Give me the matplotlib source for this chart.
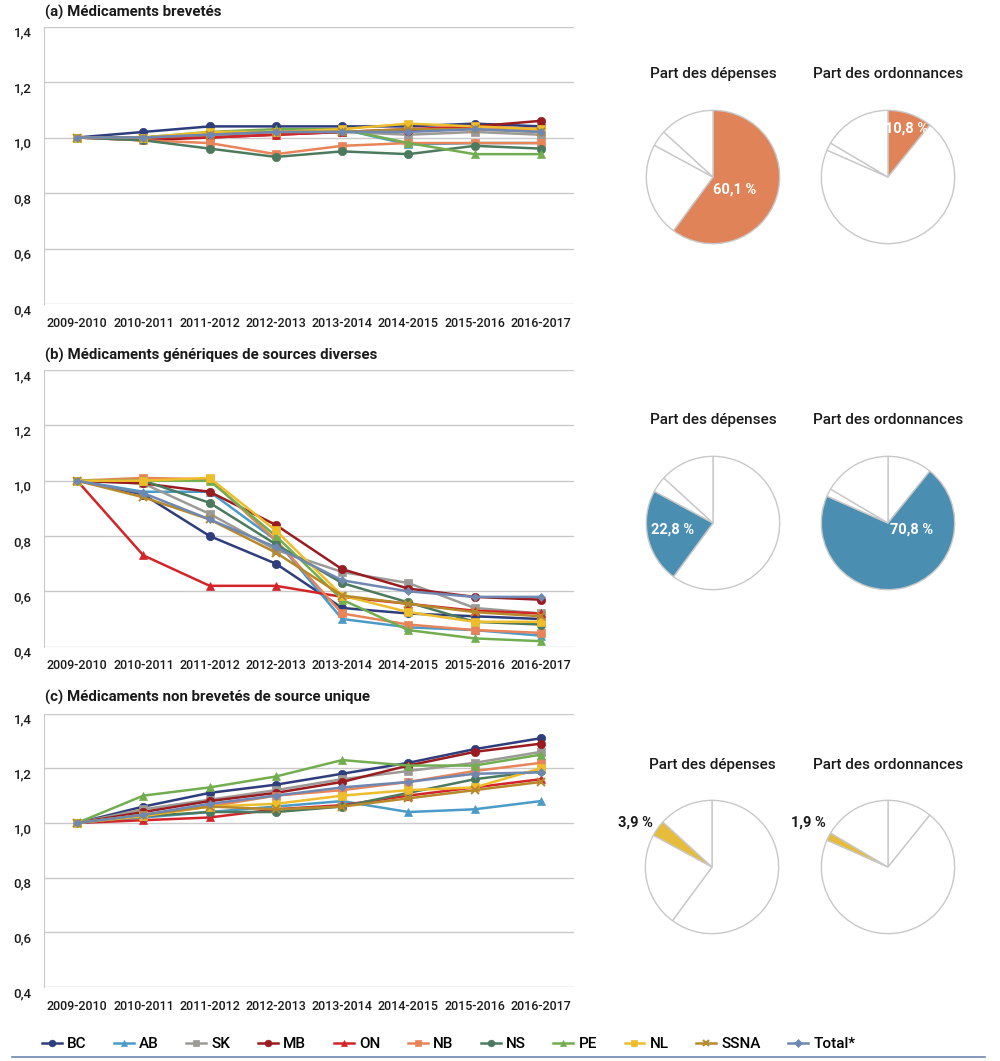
import numpy as np
import matplotlib
matplotlib.use('Agg')
import matplotlib.pyplot as plt
import matplotlib.transforms as mtransforms

plt.rcParams['font.family'] = ['Roboto', 'DejaVu Sans']

# 數據
periods = ['2009-2010', '2010-2011', '2011-2012', '2012-2013',
           '2013-2014', '2014-2015', '2015-2016', '2016-2017']
provinces = ['BC', 'AB', 'SK', 'MB', 'ON', 'NB', 'NS', 'PE', 'NL', 'SSNA', 'Total*']

# (a) Médicaments brevetés
brevetes = {
    'BC':     [1.00, 1.02, 1.04, 1.04, 1.04, 1.04, 1.05, 1.04],
    'AB':     [1.00, 1.00, 1.01, 1.02, 1.03, 0.975, 0.98, 0.98],
    'SK':     [1.00, 1.00, 1.01, 1.02, 1.02, 1.01, 1.02, 1.01],
    'MB':     [1.00, 0.99, 1.00, 1.01, 1.02, 1.025, 1.04, 1.06],
    'ON':     [1.00, 1.00, 1.00, 1.01, 1.02, 1.03, 1.04, 1.03],
    'NB':     [1.00, 0.99, 0.98, 0.94, 0.97, 0.98, 0.98, 0.98],
    'NS':     [1.00, 0.99, 0.96, 0.93, 0.95, 0.94, 0.97, 0.96],
    'PE':     [1.00, 1.00, 1.02, 1.03, 1.03, 0.98, 0.94, 0.94],
    'NL':     [1.00, 1.00, 1.02, 1.02, 1.03, 1.05, 1.04, 1.03],
    'SSNA':   [1.00, 1.00, 1.01, 1.02, 1.02, 1.03, 1.03, 1.02],
    'Total*': [1.00, 1.00, 1.01, 1.02, 1.02, 1.02, 1.03, 1.02],
}

# (b) Médicaments génériques de sources diverses
generiques = {
    'BC':     [1.00, 0.95, 0.80, 0.70, 0.54, 0.52, 0.51, 0.50],
    'AB':     [1.00, 0.96, 0.96, 0.785, 0.50, 0.47, 0.46, 0.44],
    'SK':     [1.00, 0.99, 0.88, 0.75, 0.67, 0.63, 0.54, 0.52],
    'MB':     [1.00, 0.99, 0.96, 0.84, 0.68, 0.61, 0.58, 0.57],
    'ON':     [1.00, 0.73, 0.62, 0.62, 0.58, 0.555, 0.53, 0.52],
    'NB':     [1.00, 1.01, 1.005, 0.785, 0.52, 0.48, 0.46, 0.45],
    'NS':     [1.00, 1.00, 0.92, 0.77, 0.63, 0.56, 0.49, 0.48],
    'PE':     [1.00, 1.00, 1.00, 0.80, 0.57, 0.46, 0.43, 0.42],
    'NL':     [1.00, 1.00, 1.01, 0.82, 0.585, 0.525, 0.49, 0.49],
    'SSNA':   [1.00, 0.94, 0.86, 0.74, 0.585, 0.555, 0.525, 0.51],
    'Total*': [1.00, 0.955, 0.86, 0.76, 0.64, 0.60, 0.58, 0.58],
}

# (c) Médicaments non brevetés de source unique
source_unique = {
    'BC':     [1.00, 1.06, 1.11, 1.14, 1.18, 1.22, 1.27, 1.31],
    'AB':     [1.00, 1.02, 1.04, 1.06, 1.08, 1.04, 1.05, 1.08],
    'SK':     [1.00, 1.05, 1.085, 1.12, 1.16, 1.19, 1.22, 1.26],
    'MB':     [1.00, 1.04, 1.08, 1.11, 1.15, 1.21, 1.26, 1.29],
    'ON':     [1.00, 1.01, 1.02, 1.05, 1.065, 1.10, 1.13, 1.16],
    'NB':     [1.00, 1.03, 1.06, 1.10, 1.12, 1.15, 1.19, 1.22],
    'NS':     [1.00, 1.025, 1.04, 1.04, 1.06, 1.11, 1.16, 1.19],
    'PE':     [1.00, 1.10, 1.13, 1.17, 1.23, 1.21, 1.21, 1.25],
    'NL':     [1.00, 1.025, 1.06, 1.07, 1.10, 1.12, 1.13, 1.20],
    'SSNA':   [1.00, 1.03, 1.06, 1.05, 1.06, 1.09, 1.12, 1.15],
    'Total*': [1.00, 1.03, 1.07, 1.10, 1.13, 1.15, 1.18, 1.185],
}

# 圓餅圖: 專利、仿製、單一來源、其他
pie_labels = ['brevetés', 'génériques', 'source unique', 'autres']
part_depenses = [60.1, 22.8, 3.9, 13.2]
part_ordonnances = [10.8, 70.8, 1.9, 16.5]

colors = {'BC': '#2E3D7C', 'AB': '#4A9BC7', 'SK': '#9C9A96', 'MB': '#9A1C20',
          'ON': '#D3242A', 'NB': '#E8845A', 'NS': '#4C7A5E', 'PE': '#72AE50',
          'NL': '#EDBD2C', 'SSNA': '#B8892B', 'Total*': '#6E88B2'}
markers = {'BC': 'o', 'AB': '^', 'SK': 's', 'MB': 'o', 'ON': '^', 'NB': 's',
           'NS': 'o', 'PE': '^', 'NL': 's', 'SSNA': 'x', 'Total*': 'D'}
msizes = {'o': 6, '^': 6, 's': 6, 'x': 6, 'D': 4.5}

W, H = 1000, 1061
fig = plt.figure(figsize=(W / 100, H / 100), dpi=100)


def px_axes(left, top, right, bottom):
    return fig.add_axes([left / W, 1 - bottom / H, (right - left) / W, (bottom - top) / H])


def line_panel(top, bottom, data, title, title_y):
    ax = px_axes(44, top, 574, bottom)
    x = np.arange(len(periods))
    for p in provinces:
        m = markers[p]
        ax.plot(x, data[p], color=colors[p], marker=m, markersize=msizes[m],
                linewidth=1.8, label=p, markeredgewidth=1.5 if m == 'x' else 0.5,
                markeredgecolor=colors[p])
    ax.set_xlim(-0.5, 7.5)
    ax.set_ylim(0.4, 1.4)
    ax.set_yticks([0.4, 0.6, 0.8, 1.0, 1.2, 1.4])
    ax.set_yticklabels(['0,4', '0,6', '0,8', '1,0', '1,2', '1,4'])
    ax.set_xticks(x)
    ax.set_xticklabels(periods)
    ax.grid(axis='y', color='#C9C9C9', linewidth=1)
    ax.set_axisbelow(True)
    for s in ['top', 'right', 'bottom']:
        ax.spines[s].set_visible(False)
    ax.spines['left'].set_color('#C9C9C9')
    ax.tick_params(axis='both', length=0, colors='#1A1A1A')
    ax.tick_params(axis='y', pad=9, labelsize=9.5)
    ax.tick_params(axis='x', pad=9, labelsize=9)
    for lab in ax.get_xticklabels() + ax.get_yticklabels():
        lab.set_fontweight('medium')
    off = mtransforms.ScaledTranslation(0, -5 / 100, fig.dpi_scale_trans)
    for lab in ax.get_yticklabels():
        lab.set_transform(lab.get_transform() + off)
    fig.text(45 / W, 1 - title_y / H, title, fontsize=10.8, fontweight='bold',
             color='#1A1A1A', va='center', ha='left')
    return ax


def pie_panel(cx, cy, values, color, title, title_y, lab_xy, lab_color):
    r = 68
    ax = px_axes(cx - r, cy - r, cx + r, cy + r)
    wc = ['white'] * len(values)
    idx = pie_panel.idx
    wc[idx] = color
    ax.pie(values, colors=wc, startangle=90, counterclock=False, radius=1,
           wedgeprops=dict(edgecolor='#C8C8C8', linewidth=1))
    ax.set_xlim(-1.02, 1.02)
    ax.set_ylim(-1.02, 1.02)
    ax.set_aspect('equal')
    txt = f'{values[idx]:.1f} %'.replace('.', ',')
    ax.text(lab_xy[0], lab_xy[1], txt, color=lab_color, fontsize=10.5,
            fontweight='bold', ha='center', va='center')
    fig.text(cx / W, 1 - title_y / H, title, fontsize=11, color='#1A1A1A',
             fontweight='medium', ha='center', va='center')


ax_a = line_panel(26.5, 304, brevetes, '(a) Médicaments brevetés', 12)
ax_b = line_panel(370, 646.7, generiques, '(b) Médicaments génériques de sources diverses', 355)
ax_c = line_panel(713.6, 987, source_unique, '(c) Médicaments non brevetés de source unique', 697)

# 圓餅圖
pie_panel.idx = 0
pie_panel(713, 177, part_depenses, '#E08358', 'Part des dépenses', 74, (0.33, -0.19), 'white')
pie_panel(888, 177, part_ordonnances, '#E08358', 'Part des ordonnances', 74, (0.28, 0.72), 'white')
pie_panel.idx = 1
pie_panel(713, 523, part_depenses, '#4A8EB1', 'Part des dépenses', 420, (-0.6, -0.1), 'white')
pie_panel(888, 523, part_ordonnances, '#4A8EB1', 'Part des ordonnances', 420, (0.36, -0.1), 'white')
pie_panel.idx = 2
pie_panel(712, 867, part_depenses, '#E6BC3A', 'Part des dépenses', 765, (-1.15, 0.67), '#1A1A1A')
pie_panel(888, 867, part_ordonnances, '#E6BC3A', 'Part des ordonnances', 765, (-1.2, 0.66), '#1A1A1A')

# 圖例
handles, labels = ax_a.get_legend_handles_labels()
leg = fig.legend(handles, labels, loc='center left', bbox_to_anchor=(28 / W, 1 - 1044 / H),
                 ncol=11, frameon=False, fontsize=11, handlelength=1.3, handletextpad=0.35,
                 columnspacing=1.8, markerscale=0.8)
for t in leg.get_texts():
    t.set_fontweight('medium')
fig.add_artist(plt.Line2D([12 / W, 985 / W], [1 - 1057 / H, 1 - 1057 / H],
                          color='#6E88B2', linewidth=1.2))

plt.savefig('out.png', dpi=100)
plt.close()
